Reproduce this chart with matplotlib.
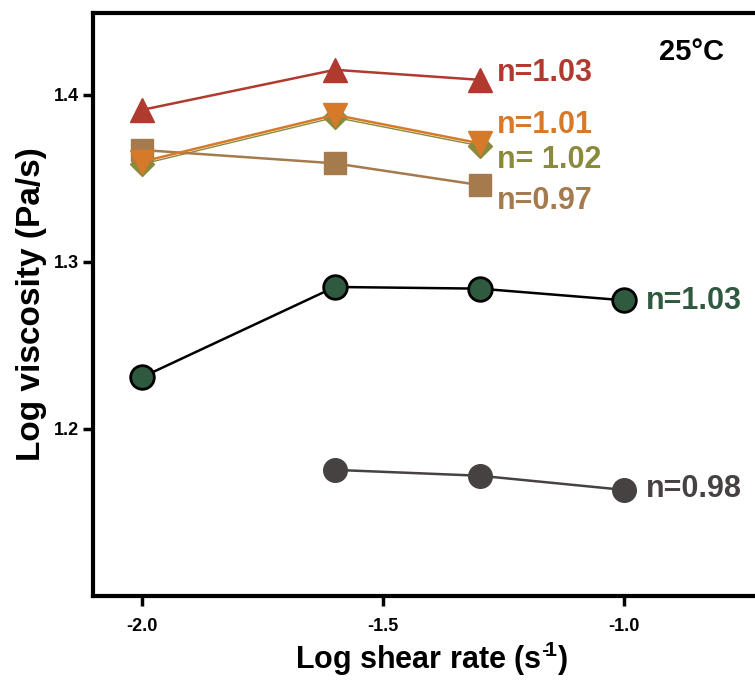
import matplotlib
matplotlib.use("Agg")
import matplotlib.pyplot as plt

plt.rcParams['font.family'] = ['Liberation Sans', 'DejaVu Sans']
plt.rcParams['font.weight'] = 'bold'
plt.rcParams['mathtext.fontset'] = 'custom'
plt.rcParams['mathtext.rm'] = 'Liberation Sans:bold'
plt.rcParams['mathtext.bf'] = 'Liberation Sans:bold'
plt.rcParams['mathtext.default'] = 'bf'

x_red = [-2.0, -1.6, -1.3]
y_red = [1.391, 1.415, 1.409]
x_orange = [-2.0, -1.6, -1.3]
y_orange = [1.360, 1.388, 1.371]
x_olive = [-2.0, -1.6, -1.3]
y_olive = [1.3585, 1.3865, 1.3695]
x_brown = [-2.0, -1.6, -1.3]
y_brown = [1.367, 1.359, 1.346]
x_green = [-2.0, -1.6, -1.3, -1.0]
y_green = [1.231, 1.285, 1.284, 1.277]
x_gray = [-1.6, -1.3, -1.0]
y_gray = [1.1755, 1.172, 1.1635]

labels = ["n=1.03", "n=1.01", "n= 1.02", "n=0.97", "n=1.03", "n=0.98"]

c_red = '#b03a2e'
c_orange = '#d67a2a'
c_olive = '#8a8a3c'
c_brown = '#a57a4c'
c_green = '#2f5a40'
c_gray = '#474242'

fig = plt.figure(figsize=(7.55, 6.81), dpi=100)
ax = fig.add_axes([93/755, 1 - 596/681, (769-93)/755, (596-13)/681])

ax.plot(x_olive, y_olive, color=c_olive, lw=1.0, marker='D', ms=12, mec=c_olive, zorder=3)
ax.plot(x_orange, y_orange, color=c_orange, lw=1.8, marker='v', ms=17, zorder=4)
ax.plot(x_brown, y_brown, color=c_brown, lw=1.8, marker='s', ms=16, zorder=3)
ax.plot(x_red, y_red, color=c_red, lw=1.8, marker='^', ms=17, zorder=4)
ax.plot(x_green, y_green, color='black', lw=1.8, marker='o', ms=17,
        mfc=c_green, mec='black', mew=2, zorder=4)
ax.plot(x_gray, y_gray, color=c_gray, lw=1.8, marker='o', ms=17,
        mfc=c_gray, mec=c_gray, zorder=4)

fs = 22
ax.text(x_red[-1] + 0.035, y_red[-1] + 0.004, labels[0], color=c_red, fontsize=fs, va='center', ha='left')
ax.text(x_orange[-1] + 0.035, y_orange[-1] + 0.011, labels[1], color=c_orange, fontsize=fs, va='center', ha='left')
ax.text(x_olive[-1] + 0.035, y_olive[-1] - 0.0085, labels[2], color=c_olive, fontsize=fs, va='center', ha='left')
ax.text(x_brown[-1] + 0.035, y_brown[-1] - 0.0095, labels[3], color=c_brown, fontsize=fs, va='center', ha='left')
ax.text(x_green[-1] + 0.045, y_green[-1] - 0.0005, labels[4], color=c_green, fontsize=fs, va='center', ha='left')
ax.text(x_gray[-1] + 0.045, y_gray[-1] + 0.0005, labels[5], color=c_gray, fontsize=fs, va='center', ha='left')
ax.text(-0.928, 1.4255, "25°C", color='black', fontsize=21, va='center', ha='left')

ax.set_xlim(-2.1017, -0.7)
ax.set_ylim(1.1, 1.449)
ax.set_xticks([-2.0, -1.5, -1.0])
ax.set_xticklabels(['-2.0', '-1.5', '-1.0'])
ax.set_yticks([1.2, 1.3, 1.4])
ax.set_yticklabels(['1.2', '1.3', '1.4'])
ax.tick_params(axis='both', direction='out', length=7, width=2.5, labelsize=13)
ax.tick_params(axis='x', pad=9)
ax.tick_params(axis='y', pad=3)
for lab in ax.get_xticklabels() + ax.get_yticklabels():
    lab.set_fontweight('bold')
for s in ['left', 'bottom', 'top', 'right']:
    ax.spines[s].set_linewidth(3)

ax.set_xlabel("Log shear rate (s$^{\u2010\\!1}$)", fontsize=22, fontweight='bold', labelpad=3)
ax.set_ylabel("Log viscosity (Pa/s)", fontsize=24, fontweight='bold', labelpad=5)

fig.savefig("out.png", dpi=100)
